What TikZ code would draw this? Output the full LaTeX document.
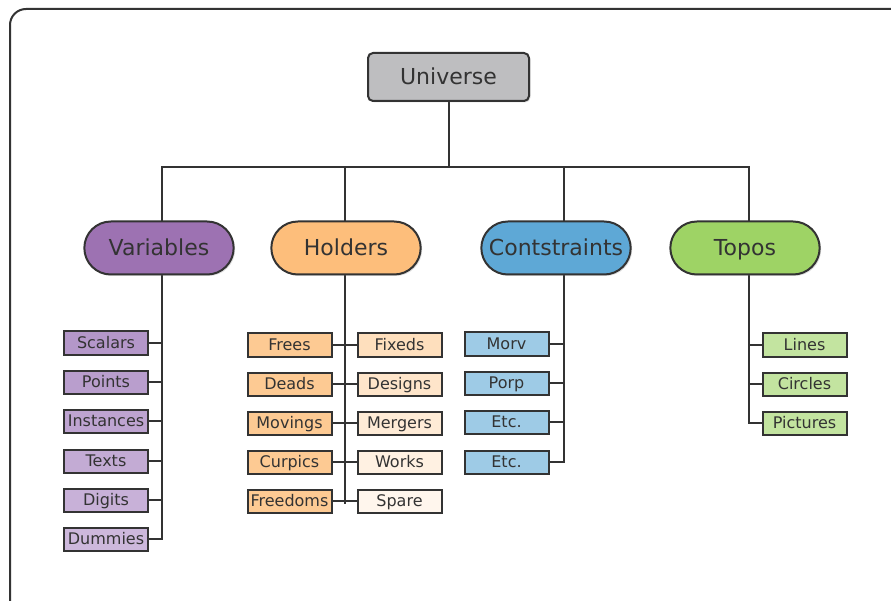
\documentclass[tikz,border=0pt]{standalone}
\usepackage{fontspec}
\setmainfont{DejaVu Sans}
\usetikzlibrary{positioning, calc}
\usetikzlibrary{shapes.misc}
\usetikzlibrary{backgrounds,shadows}

\definecolor{ink}{HTML}{333333}
\definecolor{unigray}{HTML}{BEBEC0}
\definecolor{varcol}{HTML}{9D72B2}
\definecolor{holcol}{HTML}{FDBE7B}
\definecolor{concol}{HTML}{5EA8D6}
\definecolor{topcol}{HTML}{9ED365}
\definecolor{varA}{HTML}{B497C9}
\definecolor{varB}{HTML}{CDB8DC}

\tikzset{
  rootbox/.style = {draw=ink, line width=2pt, fill=unigray, rounded corners=5pt,
    minimum width=161pt, minimum height=48pt, text=ink,
    text height=18pt, text depth=2pt,
    font=\fontsize{22}{24}\selectfont,
    drop shadow={shadow xshift=1.5pt, shadow yshift=-1.5pt, opacity=0.25}},
  groupbox/.style = {draw=ink, line width=2pt, rounded rectangle,
    minimum width=156pt, minimum height=53pt, text=ink,
    text height=18pt, text depth=2pt,
    font=\fontsize{22}{24}\selectfont,
    drop shadow={shadow xshift=1.5pt, shadow yshift=-1.5pt, opacity=0.25}},
  leafbox/.style = {draw=ink, line width=2pt, minimum width=84pt,
    minimum height=23pt, inner sep=0pt, text=ink,
    text height=13pt, text depth=2pt,
    font=\fontsize{16}{18}\selectfont},
  wire/.style = {draw=ink, line width=2pt}
}

\begin{document}
\begin{tikzpicture}[x=1pt, y=-1pt]
  \clip (0,0) rectangle (891,601);
  % frame
  \draw[ink, line width=2pt, rounded corners=16pt] (10,9) rectangle (910,620);

  % top
  \node[rootbox] (uni) at (448.5,77) {Universe};

  % groups
  \node[groupbox, fill=varcol] (var) at (159,248) {Variables};
  \node[groupbox, fill=holcol] (hol) at (346,248) {Holders};
  \node[groupbox, fill=concol] (con) at (556,248) {Contstraints};
  \node[groupbox, fill=topcol] (top) at (745,248) {Topos};

  % stems
  \coordinate (vs) at (162,167);
  \coordinate (hs) at (345,167);
  \coordinate (cs) at (564,167);
  \coordinate (ts) at (749,167);

  % Variables leaves
  \foreach \n/\t/\y/\c in {1/Scalars/343/100, 2/Points/382/80, 3/Instances/421/60,
                          4/Texts/461/40, 5/Digits/500/20, 6/Dummies/539/0}
    \node[leafbox, fill=varA!\c!varB] (v\n) at (106,\y) {\t};

  % Holders leaves
  \foreach \n/\t/\y in {1/Frees/345, 2/Deads/384, 3/Movings/423, 4/Curpics/462, 5/Freedoms/501}
    \node[leafbox, fill=holcol!82] (hl\n) at (289.5,\y) {\t};
  \foreach \n/\t/\y/\c in {1/Fixeds/345/50, 2/Designs/384/40, 3/Mergers/423/31,
                          4/Works/462/22, 5/Spare/501/14}
    \node[leafbox, fill=holcol!\c] (hr\n) at (399.5,\y) {\t};

  % Contstraints leaves
  \foreach \n/\t/\y in {1/Morv/344, 2/Porp/383, 3/Etc./422, 4/Etc./462}
    \node[leafbox, fill=concol!60] (c\n) at (506.5,\y) {\t};

  % Topos leaves
  \foreach \n/\t/\y in {1/Lines/345, 2/Circles/384, 3/Pictures/423}
    \node[leafbox, fill=topcol!62] (t\n) at (804.5,\y) {\t};

  \begin{scope}[on background layer]
    \draw[wire] (uni) -- (uni |- vs);
    \draw[wire] (vs |- var.south) -- (vs) -- (ts) -- (ts |- top.south);
    \draw[wire] (hs) -- (hs |- hol.south);
    \draw[wire] (cs) -- (cs |- con.south);
    % Variables
    \draw[wire] (var.south -| vs) |- (v6.east);
    \foreach \n in {1,...,5}
      \draw[wire] (v\n.east) -- (v\n.east -| vs);
    % Holders
    \draw[wire] (hol.south -| hs) -- ($(hs |- hl5)+(0,3)$);
    \foreach \n in {1,...,5}
      \draw[wire] (hl\n.east) -- (hr\n.west);
    % Contstraints
    \draw[wire] (con.south -| cs) |- (c4.east);
    \foreach \n in {1,...,3}
      \draw[wire] (c\n.east) -- (c\n.east -| cs);
    % Topos
    \draw[wire] (top.south -| ts) |- (t3.west);
    \foreach \n in {1,2}
      \draw[wire] (t\n.west) -- (t\n.west -| ts);
  \end{scope}
\end{tikzpicture}
\end{document}
